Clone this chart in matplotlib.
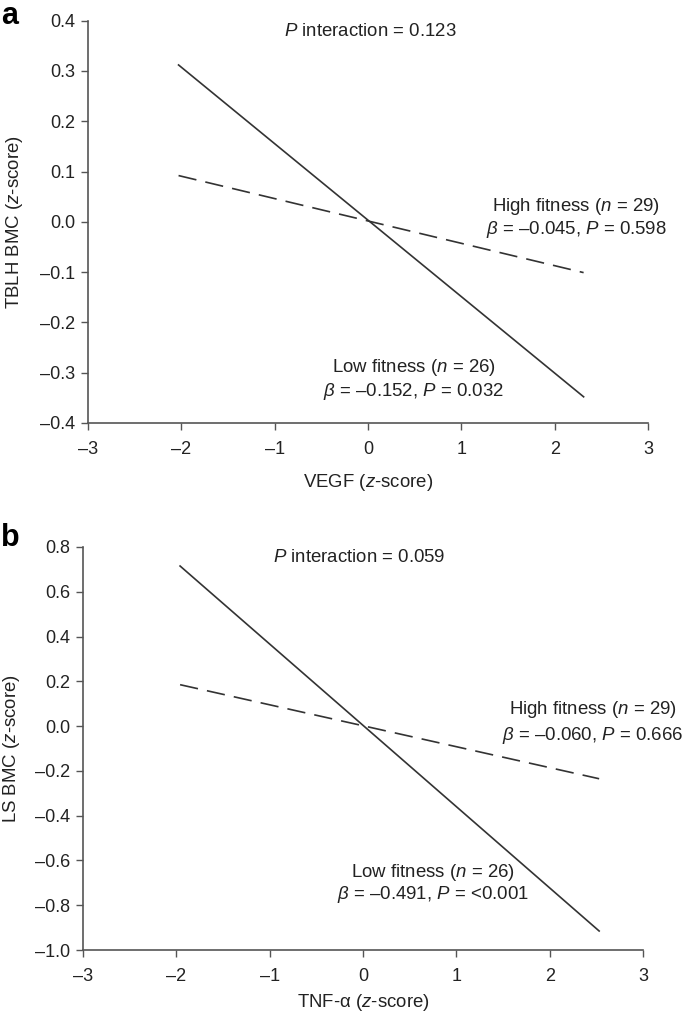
import matplotlib
matplotlib.use("Agg")
import matplotlib.pyplot as plt

plt.rcParams['font.family'] = ['Liberation Sans', 'DejaVu Sans']
plt.rcParams['mathtext.fontset'] = 'custom'
plt.rcParams['mathtext.it'] = 'Liberation Sans:italic'
plt.rcParams['mathtext.rm'] = 'Liberation Sans'

# panel a: TBLH BMC vs VEGF
vegf_x = [-2.03, 2.31]
vegf_low = [0.312, -0.348]
vegf_high = [0.092, -0.101]

# panel b: LS BMC vs TNF-alpha
tnf_x = [-1.96, 2.53]
tnf_low = [0.715, -0.915]
tnf_high = [0.185, -0.235]

a_yticks = [-0.4, -0.3, -0.2, -0.1, 0.0, 0.1, 0.2, 0.3, 0.4]
b_yticks = [-1.0, -0.8, -0.6, -0.4, -0.2, 0.0, 0.2, 0.4, 0.6, 0.8]
xticks = [-3, -2, -1, 0, 1, 2, 3]

fig = plt.figure(figsize=(6.85, 10.15), dpi=100)
ax1 = fig.add_axes([0.1285, 0.5833, 0.8175, 0.3963])
ax2 = fig.add_axes([0.1212, 0.0640, 0.8175, 0.3971])

col = '#333333'


def style(ax, yticks, fmt):
    ax.set_xlim(-3, 3)
    ax.set_ylim(yticks[0], yticks[-1])
    ax.set_xticks(xticks)
    ax.set_xticklabels([str(t).replace('-', '\u2013') for t in xticks])
    ax.set_yticks(yticks)
    ax.set_yticklabels([fmt.format(t).replace('-', '\u2013') for t in yticks])
    for s in ['top', 'right']:
        ax.spines[s].set_visible(False)
    for s in ['left', 'bottom']:
        ax.spines[s].set_color('#555555')
        ax.spines[s].set_linewidth(1.2)
    ax.tick_params(direction='out', length=5, width=1.0, color='#555555',
                   labelsize=13, labelcolor='#222222')
    ax.tick_params(axis='x', pad=8)
    ax.tick_params(axis='y', pad=4)


style(ax1, a_yticks, '{:.1f}')
style(ax2, b_yticks, '{:.1f}')

ax1.plot(vegf_x, vegf_low, color=col, lw=1.2)
ax1.plot(vegf_x, vegf_high, color=col, lw=1.2, dashes=(11, 5.5))
ax2.plot(tnf_x, tnf_low, color=col, lw=1.2)
ax2.plot(tnf_x, tnf_high, color=col, lw=1.2, dashes=(11, 5.5))

fs = 13.4
tc = '#222222'
ax1.text(0.02, 0.378, r'$P$ interaction = 0.123', ha='center', va='center', fontsize=fs, color=tc)
ax1.text(2.23, 0.03, r'High fitness ($n$ = 29)', ha='center', va='center', fontsize=fs, color=tc)
ax1.text(2.23, -0.015, '$\\beta$ = \u20130.045, $P$ = 0.598', ha='center', va='center', fontsize=fs, color=tc)
ax1.text(0.49, -0.29, r'Low fitness ($n$ = 26)', ha='center', va='center', fontsize=fs, color=tc)
ax1.text(0.49, -0.338, '$\\beta$ = \u20130.152, $P$ = 0.032', ha='center', va='center', fontsize=fs, color=tc)

ax2.text(-0.04, 0.755, r'$P$ interaction = 0.059', ha='center', va='center', fontsize=fs, color=tc)
ax2.text(2.46, 0.072, r'High fitness ($n$ = 29)', ha='center', va='center', fontsize=fs, color=tc)
ax2.text(2.46, -0.04, '$\\beta$ = \u20130.060, $P$ = 0.666', ha='center', va='center', fontsize=fs, color=tc)
ax2.text(0.75, -0.655, r'Low fitness ($n$ = 26)', ha='center', va='center', fontsize=fs, color=tc)
ax2.text(0.75, -0.754, '$\\beta$ = \u20130.491, $P$ = <0.001', ha='center', va='center', fontsize=fs, color=tc)

ax1.set_xlabel(r'VEGF ($z$-score)', fontsize=fs, color=tc)
ax1.set_ylabel(r'TBLH BMC ($z$-score)', fontsize=fs, color=tc)
ax2.set_xlabel('TNF-\u03b1 ($z$-score)', fontsize=fs, color=tc)
ax2.set_ylabel(r'LS BMC ($z$-score)', fontsize=fs, color=tc)
ax1.xaxis.set_label_coords(0.5, -0.147)
ax1.yaxis.set_label_coords(-0.132, 0.5)
ax2.xaxis.set_label_coords(0.5, -0.129)
ax2.yaxis.set_label_coords(-0.127, 0.5)
for lab in [ax1.xaxis.label, ax2.xaxis.label]:
    lab.set_va('center')
for lab in [ax1.yaxis.label, ax2.yaxis.label]:
    lab.set_va('center')

fig.text(0.002, 0.999, 'a', fontsize=22, fontweight='bold', ha='left', va='top')
fig.text(0.002, 0.485, 'b', fontsize=22, fontweight='bold', ha='left', va='top')

fig.savefig('out.png', dpi=100)
